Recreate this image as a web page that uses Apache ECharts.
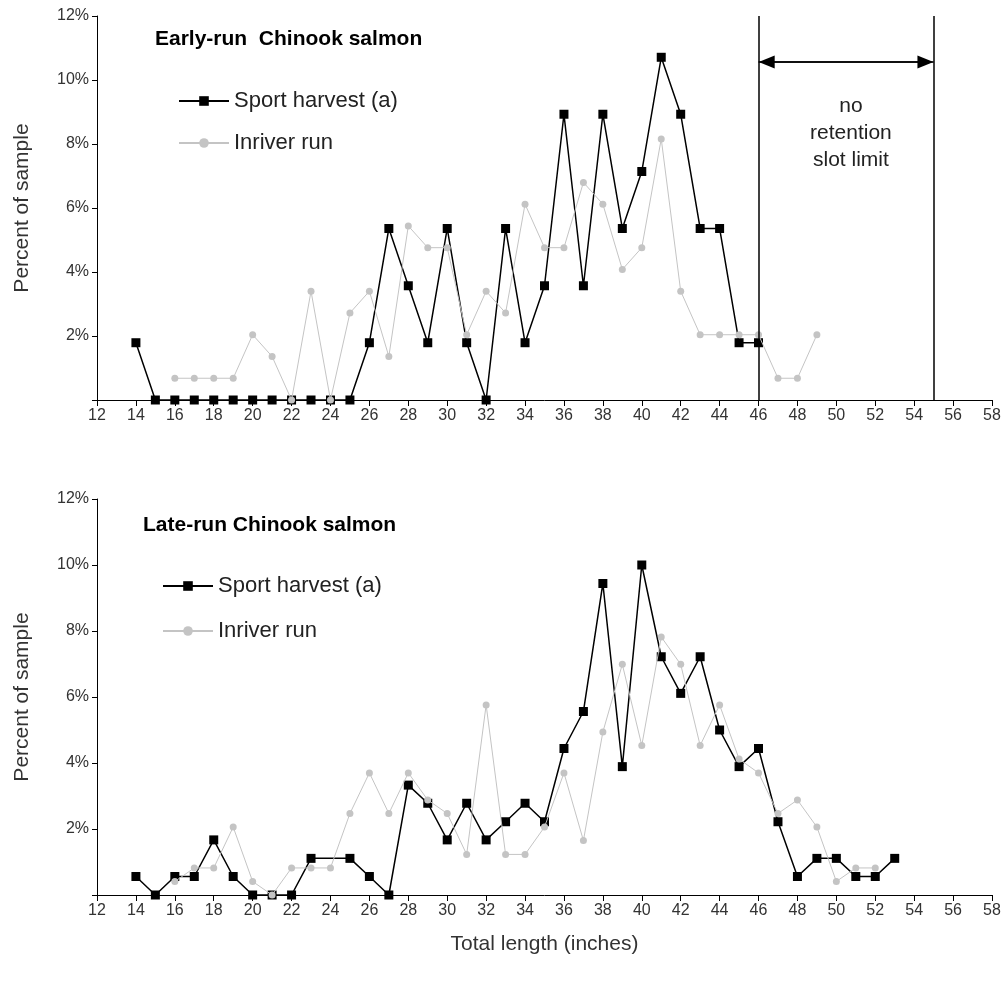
<!DOCTYPE html>
<html>
<head>
<meta charset="utf-8">
<script src="https://cdn.jsdelivr.net/npm/echarts@6/dist/echarts.min.js"></script>
<style>
  html, body { margin: 0; padding: 0; background: #fff; }
  #chart { width: 1008px; height: 985px; }
</style>
</head>
<body>
<div id="chart"></div>
<script>
// lengths (inches) and percent of sample
var earlySportLen = [14,15,16,17,18,19,20,21,22,23,24,25,26,27,28,29,30,31,32,33,34,35,36,37,38,39,40,41,42,43,44,45,46];
var earlySport = [1.79,0,0,0,0,0,0,0,0,0,0,0,1.79,5.36,3.57,1.79,5.36,1.79,0,5.36,1.79,3.57,8.93,3.57,8.93,5.36,7.14,10.71,8.93,5.36,5.36,1.79,1.79];
var earlyInriverLen = [16,17,18,19,20,21,22,23,24,25,26,27,28,29,30,31,32,33,34,35,36,37,38,39,40,41,42,43,44,45,46,47,48,49];
var earlyInriver = [0.68,0.68,0.68,0.68,2.04,1.36,0,3.40,0,2.72,3.40,1.36,5.44,4.76,4.76,2.04,3.40,2.72,6.12,4.76,4.76,6.80,6.12,4.08,4.76,8.16,3.40,2.04,2.04,2.04,2.04,0.68,0.68,2.04];

var lateSportLen = [14,15,16,17,18,19,20,21,22,23,24,25,26,27,28,29,30,31,32,33,34,35,36,37,38,39,40,41,42,43,44,45,46,47,48,49,50,51,52,53];
var lateSport = [0.56,0,0.56,0.56,1.67,0.56,0,0,0,1.11,'-',1.11,0.56,0,3.33,2.78,1.67,2.78,1.67,2.22,2.78,2.22,4.44,5.56,9.44,3.89,10.0,7.22,6.11,7.22,5.00,3.89,4.44,2.22,0.56,1.11,1.11,0.56,0.56,1.11];
var lateInriverLen = [16,17,18,19,20,21,22,23,24,25,26,27,28,29,30,31,32,33,34,35,36,37,38,39,40,41,42,43,44,45,46,47,48,49,50,51,52];
var lateInriver = [0.41,0.82,0.82,2.06,0.41,0,0.82,0.82,0.82,2.47,3.70,2.47,3.70,2.88,2.47,1.23,5.76,1.23,1.23,2.06,3.70,1.65,4.94,6.99,4.53,7.82,6.99,4.53,5.76,4.12,3.70,2.47,2.88,2.06,0.41,0.82,0.82];

var slotLimit = [46, 55];
var titles = ['Early-run  Chinook salmon', 'Late-run Chinook salmon'];

function pairs(xs, ys) {
  return xs.map(function (x, i) { return [x, ys[i]]; });
}

var font = 'Liberation Sans, Arial, sans-serif';
var labelColor = '#333';

function xAxis(idx, withName) {
  return {
    type: 'value', gridIndex: idx, min: 12, max: 58, interval: 2,
    name: withName ? 'Total length (inches)' : '',
    nameLocation: 'middle', nameGap: 39,
    nameTextStyle: { fontFamily: font, fontSize: 21, color: labelColor },
    axisLine: { show: true, onZero: false, lineStyle: { color: '#000', width: 1 } },
    axisTick: { show: true, length: 6, lineStyle: { color: '#000' } },
    axisLabel: { fontFamily: font, fontSize: 16, color: labelColor, margin: 8 },
    splitLine: { show: false }
  };
}

function yAxis(idx) {
  return {
    type: 'value', gridIndex: idx, min: 0, max: 12, interval: 2,
    name: 'Percent of sample', nameLocation: 'middle', nameGap: 64, nameRotate: 90,
    nameTextStyle: { fontFamily: font, fontSize: 21, color: labelColor },
    axisLine: { show: true, lineStyle: { color: '#000', width: 1 } },
    axisTick: { show: true, length: 5, lineStyle: { color: '#000' } },
    axisLabel: {
      fontFamily: font, fontSize: 16, color: labelColor, margin: 8,
      formatter: function (v) { return v === 0 ? '' : v + '%'; }
    },
    splitLine: { show: false }
  };
}

function sportSeries(idx, data) {
  return {
    name: 'Sport harvest (a)', type: 'line', xAxisIndex: idx, yAxisIndex: idx,
    data: data, connectNulls: true,
    symbol: 'rect', symbolSize: 9,
    lineStyle: { color: '#000', width: 1.5 },
    itemStyle: { color: '#000' },
    z: 2, animation: false
  };
}

function inriverSeries(idx, data) {
  return {
    name: 'Inriver run', type: 'line', xAxisIndex: idx, yAxisIndex: idx,
    data: data,
    symbol: 'circle', symbolSize: 7,
    lineStyle: { color: '#c4c4c4', width: 1 },
    itemStyle: { color: '#c4c4c4' },
    z: 3, animation: false
  };
}

var chart = echarts.init(document.getElementById('chart'));

// arrow heads sit inside the slot, tips touching the limit lines
var arrowInset = 0.42;
var early = sportSeries(0, pairs(earlySportLen, earlySport));
early.markLine = {
  silent: true, symbol: 'none', animation: false,
  lineStyle: { color: '#000', width: 1.5, type: 'solid' },
  label: { show: false },
  data: [
    { xAxis: slotLimit[0] },
    { xAxis: slotLimit[1] },
    [
      { coord: [slotLimit[0], 10.56] },
      { coord: [slotLimit[1], 10.56] }
    ],
    [
      { coord: [slotLimit[0] + arrowInset, 10.56], symbol: 'triangle', symbolSize: [13, 16], symbolRotate: 90 },
      { coord: [slotLimit[1] - arrowInset, 10.56], symbol: 'triangle', symbolSize: [13, 16], symbolRotate: -90 }
    ]
  ]
};

var titleStyle = { fontFamily: font, fontSize: 21, fontWeight: 'bold', color: '#000' };
var legendText = { fontFamily: font, fontSize: 22, color: '#222' };

var option = {
  backgroundColor: '#fff',
  animation: false,
  title: [
    { text: titles[0], left: 150, top: 24, textStyle: titleStyle },
    { text: titles[1], left: 138, top: 510, textStyle: titleStyle }
  ],
  legend: [
    {
      orient: 'vertical', left: 173, top: 85, itemWidth: 50, itemHeight: 12, itemGap: 20,
      textStyle: legendText, data: ['Sport harvest (a)', 'Inriver run']
    },
    {
      orient: 'vertical', left: 157, top: 570, itemWidth: 50, itemHeight: 12, itemGap: 23,
      textStyle: legendText, data: ['Sport harvest (a)', 'Inriver run']
    }
  ],
  grid: [
    { left: 97, right: 16, top: 16, height: 384 },
    { left: 97, right: 16, top: 499, height: 396 }
  ],
  xAxis: [xAxis(0, false), xAxis(1, true)],
  yAxis: [yAxis(0), yAxis(1)],
  series: [
    early,
    inriverSeries(0, pairs(earlyInriverLen, earlyInriver)),
    sportSeries(1, pairs(lateSportLen, lateSport)),
    inriverSeries(1, pairs(lateInriverLen, lateInriver))
  ]
};

chart.setOption(option);

// slot limit note, placed with the axis scale
var notePos = chart.convertToPixel({ gridIndex: 0 }, [50.75, 9.6]);
chart.setOption({
  graphic: [{
    type: 'text', x: notePos[0], y: notePos[1],
    style: {
      text: 'no\nretention\nslot limit', align: 'center', verticalAlign: 'top',
      fontFamily: font, fontSize: 21, lineHeight: 27, fill: '#222'
    }
  }]
});
</script>
</body>
</html>
